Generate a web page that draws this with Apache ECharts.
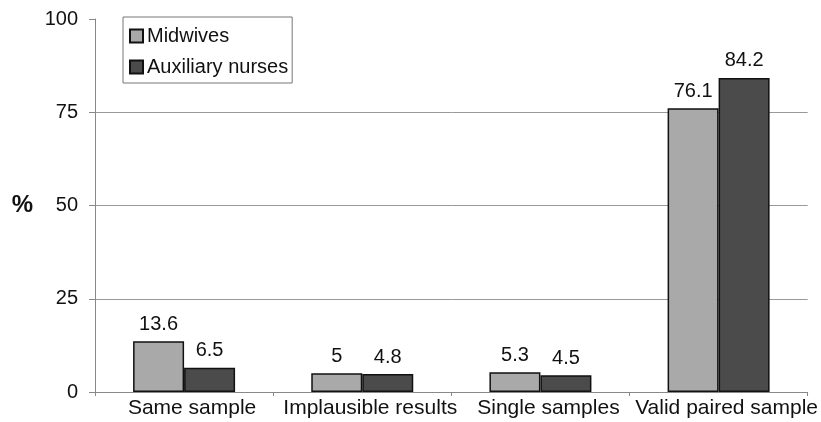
<!DOCTYPE html>
<html>
<head>
<meta charset="utf-8">
<script src="https://cdn.jsdelivr.net/npm/echarts@6/dist/echarts.min.js"></script>
<style>
  html, body { margin: 0; padding: 0; background: #fff; }
  #chart { width: 821px; height: 422px; }
</style>
</head>
<body>
<div id="chart"></div>
<script>
const categories = ['Same sample', 'Implausible results', 'Single samples', 'Valid paired sample'];
const midwives = [13.6, 5, 5.3, 76.1];
const auxiliaryNurses = [6.5, 4.8, 4.5, 84.2];
const yTicks = [0, 25, 50, 75, 100];

const font = '"Liberation Sans", Arial, sans-serif';
const chart = echarts.init(document.getElementById('chart'), null, { renderer: 'canvas' });

const labelStyle = {
  show: true,
  position: 'top',
  distance: 7,
  color: '#111',
  fontFamily: font,
  fontSize: 20
};

chart.setOption({
  animation: false,
  backgroundColor: '#fff',
  textStyle: { fontFamily: font },
  grid: { left: 95, right: 13, top: 19, bottom: 30, containLabel: false },
  legend: {
    orient: 'vertical',
    left: 123,
    top: 17,
    padding: [9, 4, 6, 6],
    itemGap: 11,
    itemWidth: 13,
    itemHeight: 13,
    icon: 'rect',
    borderColor: '#777',
    borderWidth: 1,
    backgroundColor: '#fff',
    textStyle: { fontFamily: font, fontSize: 20, color: '#111', padding: [0, 0, 0, -1] },
    data: ['Midwives', 'Auxiliary nurses']
  },
  xAxis: {
    type: 'category',
    data: categories,
    axisLine: { lineStyle: { color: '#888', width: 1 } },
    axisTick: { show: true, alignWithLabel: false, length: 4, lineStyle: { color: '#888' } },
    axisLabel: {
      interval: 0, color: '#111', fontFamily: font, fontSize: 21, margin: 6,
      padding: [0, 0, 0, 16]
    }
  },
  yAxis: {
    type: 'value',
    min: yTicks[0],
    max: yTicks[yTicks.length - 1],
    interval: 25,
    name: '%',
    nameLocation: 'middle',
    nameRotate: 0,
    nameGap: 62,
    nameTextStyle: { fontFamily: font, fontSize: 24, fontWeight: 'bold', color: '#111' },
    axisLine: { show: true, lineStyle: { color: '#888', width: 1 } },
    axisTick: { show: true, length: 6, lineStyle: { color: '#888' } },
    axisLabel: { color: '#111', fontFamily: font, fontSize: 20, margin: 17 },
    splitLine: {
      show: true,
      lineStyle: { color: ['transparent', '#999', '#999', '#999', 'transparent'], width: 1 }
    }
  },
  series: [
    {
      name: 'Midwives',
      type: 'bar',
      data: midwives,
      barWidth: 51,
      barGap: '0%',
      itemStyle: { color: '#a9a9a9', borderColor: '#111', borderWidth: 1.5 },
      label: labelStyle
    },
    {
      name: 'Auxiliary nurses',
      type: 'bar',
      data: auxiliaryNurses,
      barWidth: 51,
      barGap: '0%',
      itemStyle: { color: '#4b4b4b', borderColor: '#111', borderWidth: 1.5 },
      label: labelStyle
    }
  ]
});
</script>
</body>
</html>
